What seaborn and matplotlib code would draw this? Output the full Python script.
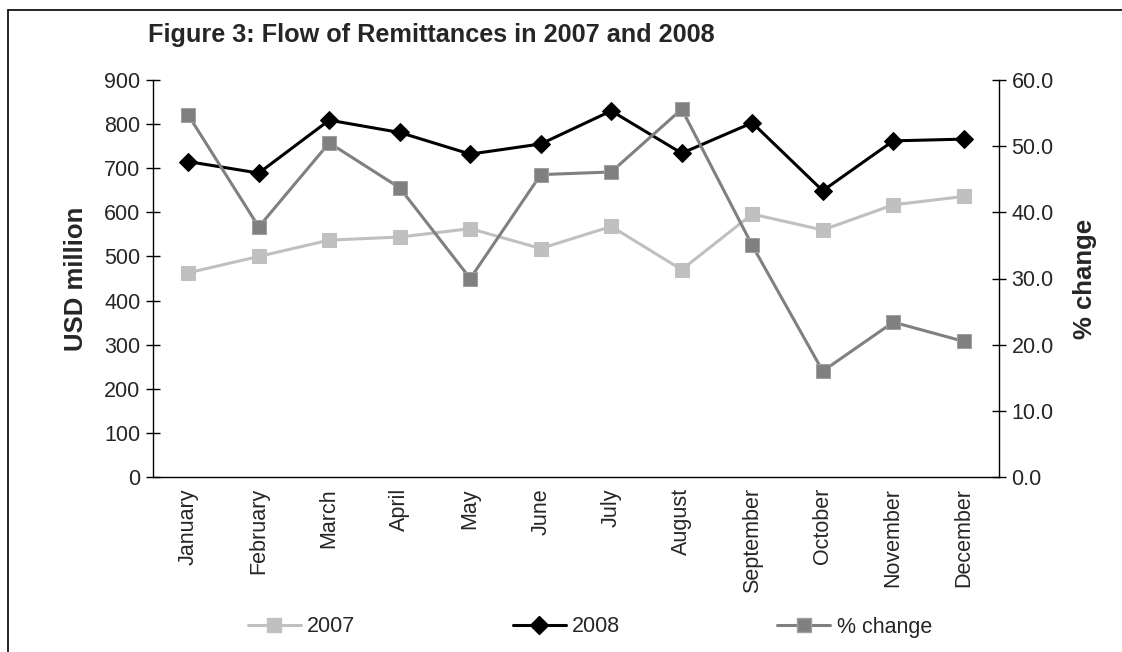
import numpy as np
import pandas as pd
import matplotlib
matplotlib.use("Agg")
import matplotlib.pyplot as plt
from matplotlib.lines import Line2D
import seaborn as sns

months = ["January", "February", "March", "April", "May", "June", "July",
          "August", "September", "October", "November", "December"]
usd_2007 = [463, 500, 537, 544, 563, 518, 568, 470, 596, 560, 617, 636]
usd_2008 = [715, 689, 809, 781, 732, 755, 830, 734, 803, 649, 762, 766]
pct_change = [54.7, 37.8, 50.5, 43.7, 30.0, 45.7, 46.1, 55.6, 35.0, 16.0, 23.4, 20.5]
left_ticks = [0, 100, 200, 300, 400, 500, 600, 700, 800, 900]
right_ticks = [0, 10, 20, 30, 40, 50, 60]

sns.set_theme(style="white")
plt.rcParams["font.family"] = ["Liberation Sans", "DejaVu Sans"]

df = pd.DataFrame({"pos": np.arange(len(months)), "month": months,
                   "y2007": usd_2007, "y2008": usd_2008, "pct": pct_change})

fig = plt.figure(figsize=(11.22, 6.52), dpi=100)
ax = fig.add_axes([153/1122, 1-477/652, (999-153)/1122, (477-80)/652])
ax2 = ax.twinx()

c07, c08, cpc = "#C0C0C0", "#000000", "#808080"
sns.lineplot(data=df, x="pos", y="y2007", ax=ax, color=c07, marker="s",
             markersize=10, linewidth=2.2, markeredgecolor=c07)
sns.lineplot(data=df, x="pos", y="y2008", ax=ax, color=c08, marker="D",
             markersize=9, linewidth=2.2, markeredgecolor=c08)
sns.lineplot(data=df, x="pos", y="pct", ax=ax2, color=cpc, marker="s",
             markersize=10, linewidth=2.2, markeredgecolor="#a0a0a0")

tfs = 15.5
ax.set_xlim(-0.5, len(months)-0.5)
ax.set_ylim(0, 900)
ax2.set_ylim(0, 60)
ax.set_yticks(left_ticks)
ax.set_yticklabels([str(t) for t in left_ticks], fontsize=tfs)
ax2.set_yticks(right_ticks)
ax2.set_yticklabels([f"{t:.1f}" for t in right_ticks], fontsize=tfs)
ax.set_xticks(np.arange(len(months)))
ax.set_xticklabels(months, rotation=90, fontsize=tfs)
ax.set_xticks(np.arange(len(months)+1)-0.5, minor=True)
ax.tick_params(axis="x", which="major", length=0, pad=8)
ax.tick_params(axis="x", which="minor", direction="inout", length=12, width=1, color="black")
ax.tick_params(axis="y", direction="inout", length=10, width=1, color="black", pad=4)
ax2.tick_params(axis="y", direction="inout", length=10, width=1, color="black", pad=4)

for a in (ax, ax2):
    a.grid(False)
    a.spines["top"].set_visible(False)
    for s in ("left", "bottom", "right"):
        a.spines[s].set_color("black")
        a.spines[s].set_linewidth(1)
ax.spines["right"].set_visible(False)
ax2.spines["left"].set_visible(False)
ax2.spines["bottom"].set_visible(False)

ax.set_xlabel("")
ax.set_ylabel("USD million", fontsize=18.5, fontweight="bold", labelpad=12)
ax2.set_ylabel("% change", fontsize=18.5, fontweight="bold", labelpad=14)

fig.text(148/1122, 1-35/652, "Figure 3: Flow of Remittances in 2007 and 2008",
         fontsize=18.2, fontweight="bold", ha="left", va="center")

handles = [
    Line2D([], [], color=c07, marker="s", markersize=10, linewidth=2.2, markeredgecolor=c07),
    Line2D([], [], color=c08, marker="D", markersize=9, linewidth=2.2, markeredgecolor=c08),
    Line2D([], [], color=cpc, marker="s", markersize=10, linewidth=2.2, markeredgecolor="#a0a0a0"),
]
fig.legend(handles, ["2007", "2008", "% change"], loc="center",
           bbox_to_anchor=(590/1122, 1-627/652), ncol=3, frameon=False,
           fontsize=tfs, handlelength=2.46, handletextpad=0.3, columnspacing=7.3)

# figure border (top and left visible)
fig.add_artist(Line2D([8/1122, 8/1122], [0, 1-10/652], transform=fig.transFigure,
                      color="black", linewidth=1.2))
fig.add_artist(Line2D([8/1122, 1], [1-10/652, 1-10/652], transform=fig.transFigure,
                      color="black", linewidth=1.2))

fig.savefig("out.png", dpi=100)
